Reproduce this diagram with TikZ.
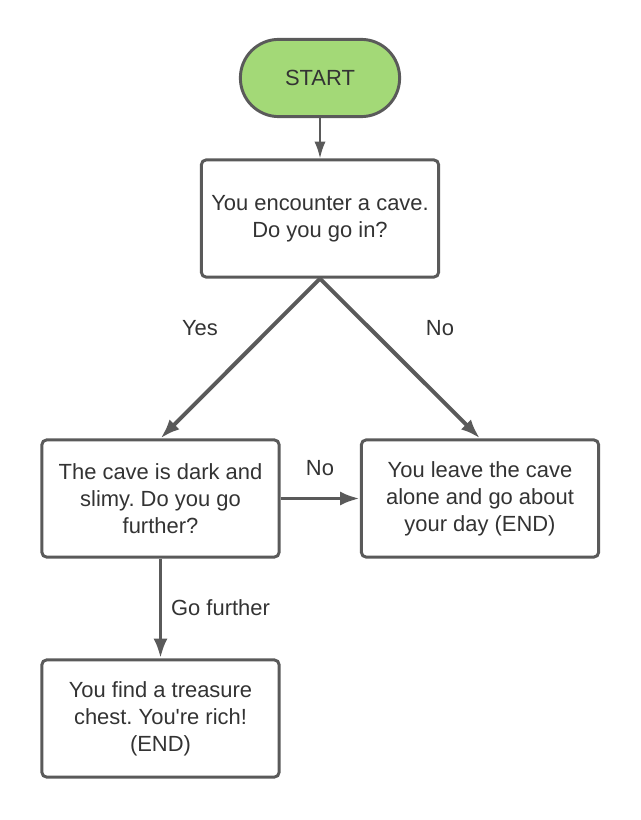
\documentclass[tikz,border=0pt]{standalone}
\usepackage{fontspec}
\setmainfont{Liberation Sans}
\usetikzlibrary{arrows.meta}
\definecolor{edge}{HTML}{5A5A5A}
\definecolor{ink}{HTML}{333333}
\definecolor{lime}{HTML}{A3D977}
\frenchspacing

\begin{document}
\begin{tikzpicture}[x=0.025cm,y=-0.025cm,
  font=\fontsize{15.6}{19.2}\selectfont,text=ink,
  box/.style={draw=edge,line width=2.1pt,rounded corners=0.12cm,fill=white,
    minimum width=5.93cm,minimum height=2.93cm,align=center,inner sep=0pt},
  flow/.style={-{Latex[length=14pt,width=10pt]},edge,line width=2.8pt},
  lbl/.style={inner sep=0pt}]
\useasboundingbox (0,0) rectangle (640,820);
% nodes
\node[box,fill=lime,rounded corners=0.96cm,minimum width=3.98cm,minimum height=1.93cm] (start) at (320,78) {START};
\node[box] (cave) at (320,218.5) {You encounter a cave.\\Do you go in?};
\node[box] (dark) at (160.5,498.5) {The cave is dark and\\slimy. Do you go\\further?};
\node[box] (leave) at (480,498.5) {You leave the cave\\alone and go about\\your day (END)};
\node[box] (chest) at (160.5,718.5) {You find a treasure\\chest. You\textquotesingle re rich!\\(END)};
% connectors
\draw[-{Latex[length=12pt,width=8pt]},edge,line width=1.4pt] (start) -- (cave);
\draw[flow] (cave.south) -- (dark.north);
\draw[flow] (cave.south) -- (leave.north);
\draw[flow] (dark) -- (leave);
\draw[flow] (dark) -- (chest);
% labels
\node[lbl] (yes) at (200,328) {Yes};
\node[lbl] (no1) at (440,328) {No};
\node[lbl] (no2) at (320,468) {No};
\node[lbl] (further) at (220.5,608) {Go further};
\end{tikzpicture}
\end{document}
